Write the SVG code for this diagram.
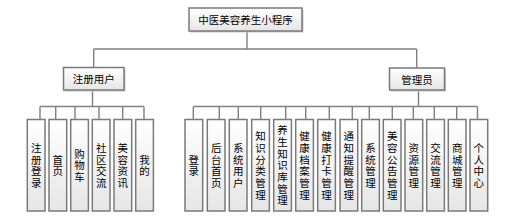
<svg xmlns="http://www.w3.org/2000/svg" width="508" height="217" viewBox="0 0 508 217">
<defs>
<linearGradient id="g" x1="0" y1="0" x2="0" y2="1">
<stop offset="0" stop-color="#ffffff"/>
<stop offset="1" stop-color="#e6e6e6"/>
</linearGradient>
</defs>
<style>
.box{fill:url(#g);stroke:#7a7a7a;stroke-width:1.5}
.sh{fill:#c8c8c8}
.ln{fill:none;stroke:#808080;stroke-width:1.4}
text{font-family:"Noto Sans CJK SC","Noto Sans",sans-serif;font-size:10.5px;fill:#000;text-anchor:middle;dominant-baseline:central}
.v{writing-mode:vertical-rl;letter-spacing:1.2px}
</style>
<rect width="508" height="217" fill="#ffffff"/>
<g id="connectors">
<path class="ln" d="M247 31V49M93.7 49H416.7M93.7 49V67.5M416.7 49V68"/>
<path class="ln" d="M92.5 90V106.5M40 106.5H144M40 106.5V119.5M55.7 106.5V119.5M75 106.5V119.5M99 106.5V119.5M122.7 106.5V119.5M144 106.5V119.5"/>
<path class="ln" d="M418.5 90V106.5M193.3 106.5H477.5M193.3 106.5V119.5M219.3 106.5V119.5M238.3 106.5V119.5M260.7 106.5V119.5M285.7 106.5V119.5M305.7 106.5V119.5M329.3 106.5V119.5M352.3 106.5V119.5M369.3 106.5V119.5M392.3 106.5V119.5M413.3 106.5V119.5M434.3 106.5V119.5M456.7 106.5V119.5M477.5 106.5V119.5"/>
</g>
<g id="root"><rect class="sh" x="190.5" y="9.5" width="113" height="23"/><rect class="box" x="189" y="8" width="113" height="23"/><text x="245.5" y="19.5">中医美容养生小程序</text></g>
<g id="user"><rect class="sh" x="65" y="69" width="60.5" height="22.5"/><rect class="box" x="63.5" y="67.5" width="60.5" height="22.5"/><text x="93.75" y="78.75">注册用户</text></g>
<g id="admin"><rect class="sh" x="391" y="69.5" width="55" height="22"/><rect class="box" x="389.5" y="68" width="55" height="22"/><text x="417" y="79">管理员</text></g>

<g id="u1"><rect class="box" x="27.3" y="119.5" width="17.7" height="91.5"/><text class="v" x="36.15" y="166">注册登录</text></g>
<g id="u2"><rect class="box" x="49" y="119.5" width="17.7" height="91.5"/><text class="v" x="57.85" y="166">首页</text></g>
<g id="u3"><rect class="box" x="70.7" y="119.5" width="17.7" height="91.5"/><text class="v" x="79.55" y="166">购物车</text></g>
<g id="u4"><rect class="box" x="92.3" y="119.5" width="17.7" height="91.5"/><text class="v" x="101.15" y="166">社区交流</text></g>
<g id="u5"><rect class="box" x="114" y="119.5" width="17.7" height="91.5"/><text class="v" x="122.85" y="166">美容资讯</text></g>
<g id="u6"><rect class="box" x="135.7" y="119.5" width="17.7" height="91.5"/><text class="v" x="144.55" y="166">我的</text></g>

<g id="a1"><rect class="box" x="185" y="119.5" width="17.7" height="91.5"/><text class="v" x="193.85" y="166">登录</text></g>
<g id="a2"><rect class="box" x="207.3" y="119.5" width="17.7" height="91.5"/><text class="v" x="216.15" y="166">后台首页</text></g>
<g id="a3"><rect class="box" x="229.3" y="119.5" width="17.7" height="91.5"/><text class="v" x="238.15" y="166">系统用户</text></g>
<g id="a4"><rect class="box" x="251.7" y="119.5" width="17.7" height="91.5"/><text class="v" x="260.55" y="166">知识分类管理</text></g>
<g id="a5"><rect class="box" x="273.7" y="119.5" width="17.7" height="91.5"/><text class="v" x="282.55" y="166">养生知识库管理</text></g>
<g id="a6"><rect class="box" x="295.7" y="119.5" width="17.7" height="91.5"/><text class="v" x="304.55" y="166">健康档案管理</text></g>
<g id="a7"><rect class="box" x="317.7" y="119.5" width="17.7" height="91.5"/><text class="v" x="326.55" y="166">健康打卡管理</text></g>
<g id="a8"><rect class="box" x="340" y="119.5" width="17.7" height="91.5"/><text class="v" x="348.85" y="166">通知提醒管理</text></g>
<g id="a9"><rect class="box" x="361.7" y="119.5" width="17.7" height="91.5"/><text class="v" x="370.55" y="166">系统管理</text></g>
<g id="a10"><rect class="box" x="383.3" y="119.5" width="17.7" height="91.5"/><text class="v" x="392.15" y="166">美容公告管理</text></g>
<g id="a11"><rect class="box" x="405" y="119.5" width="17.7" height="91.5"/><text class="v" x="413.85" y="166">资源管理</text></g>
<g id="a12"><rect class="box" x="426.7" y="119.5" width="17.7" height="91.5"/><text class="v" x="435.55" y="166">交流管理</text></g>
<g id="a13"><rect class="box" x="448.3" y="119.5" width="17.7" height="91.5"/><text class="v" x="457.15" y="166">商城管理</text></g>
<g id="a14"><rect class="box" x="470" y="119.5" width="17.7" height="91.5"/><text class="v" x="478.85" y="166">个人中心</text></g>
</svg>
